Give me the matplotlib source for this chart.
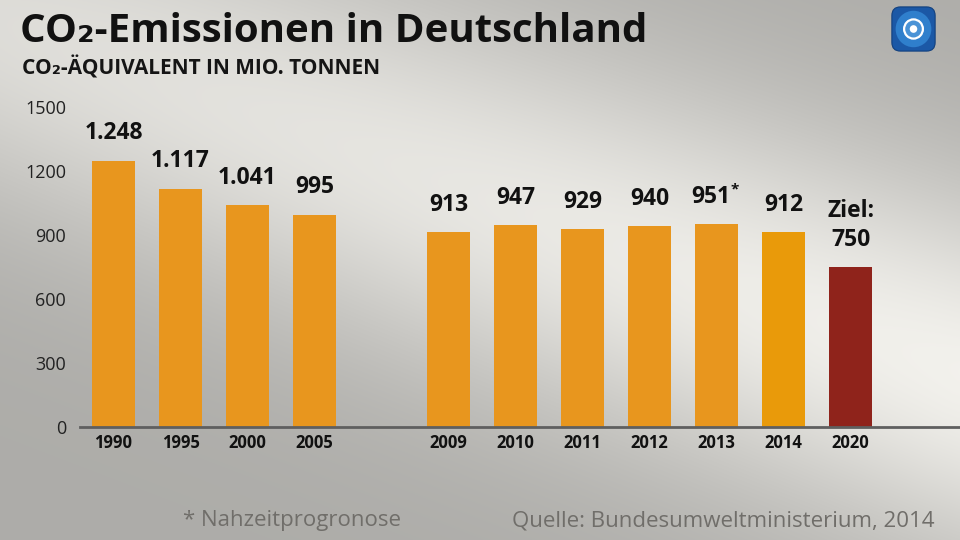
import numpy as np
import matplotlib.pyplot as plt
from matplotlib.patches import FancyBboxPatch, Circle

# # Data
years = ['1990', '1995', '2000', '2005', '2009', '2010', '2011', '2012', '2013', '2014', '2020']
slots = [0, 1, 2, 3, 5, 6, 7, 8, 9, 10, 11]
values = [1248, 1117, 1041, 995, 913, 947, 929, 940, 951, 912, 750]
labels = ['1.248', '1.117', '1.041', '995', '913', '947', '929', '940', '951*', '912', 'Ziel:\n750']
colors = ['#e8961e'] * 9 + ['#e99a0a', '#8f231b']
yticks = [0, 300, 600, 900, 1200, 1500]

plt.rcParams['font.family'] = ['Open Sans', 'DejaVu Sans']

W, H = 960, 540
fig = plt.figure(figsize=(W / 100, H / 100), dpi=100)

# # Background: diagonal light streak on grey
bg = fig.add_axes([0, 0, 1, 1], zorder=-2)
xx, yy = np.meshgrid(np.arange(W), np.arange(H))
dx, dy = 960.0, 350.0
n = np.hypot(dx, dy)
t = np.clip((xx * dx + (yy - 20) * dy) / n ** 2, 0, 1)
dist = np.abs(-(xx * dy) + (yy - 20) * dx) / n
peak = 0.87 + 0.08 * t
shade = 0.68 + (peak - 0.68) * np.exp(-(dist / 180.0) ** 2)
img = np.dstack([shade, shade * 0.995, shade * 0.975])
bg.imshow(img, extent=[0, W, H, 0], aspect='auto')
bg.set_xlim(0, W)
bg.set_ylim(H, 0)
bg.axis('off')

# # Bars
ax = fig.add_axes([80 / W, 113 / H, 880 / W, 320 / H])
ax.patch.set_alpha(0)
ax.bar(slots, values, width=0.64, color=colors, zorder=2)
for x, v, lab in zip(slots, values, labels):
    star = lab.endswith('*')
    ax.annotate(lab.rstrip('*'), (x, v), xytext=(-4 if star else 0, 11), textcoords='offset points',
                ha='center', va='bottom', fontsize=16.5, fontweight='bold',
                color='#111111', linespacing=1.25)
    if star:
        # small raised asterisk after the number
        ax.annotate('*', (x, v), xytext=(10, 20), textcoords='offset points',
                    ha='left', va='bottom', fontsize=11, fontweight='bold', color='#111111')

ax.set_xlim(-0.5, 12.63)
ax.set_ylim(0, 1500)
ax.set_yticks(yticks)
ax.set_yticklabels([str(v) for v in yticks], fontsize=13, color='#222222')
ax.set_xticks(slots)
ax.set_xticklabels(years, fontsize=12, fontweight='bold', color='#111111')
ax.tick_params(axis='y', length=0, pad=10)
ax.tick_params(axis='x', length=0, pad=5)
for s in ['top', 'right', 'left']:
    ax.spines[s].set_visible(False)
ax.spines['bottom'].set_color('#5f5f5f')
ax.spines['bottom'].set_linewidth(2)

# # Titles
fig.text(20 / W, 1 - 42 / H, 'CO₂-Emissionen in Deutschland', fontsize=29,
         fontweight='bold', color='#111111', va='baseline')
fig.text(22 / W, 1 - 74 / H, 'CO₂-ÄQUIVALENT IN MIO. TONNEN', fontsize=15,
         fontweight='bold', color='#151515', va='baseline')

# # Footer
fig.text(183 / W, 1 - 526 / H, '* Nahzeitprogronose', fontsize=16,
         color='#706e6a', va='baseline')
fig.text(935 / W, 1 - 526 / H, 'Quelle: Bundesumweltministerium, 2014', fontsize=16,
         color='#706e6a', va='baseline', ha='right')

# # Logo
lg = fig.add_axes([890 / W, 1 - 53 / H, 47 / W, 48 / H])
lg.set_xlim(0, 1)
lg.set_ylim(0, 1)
lg.axis('off')
lg.add_patch(FancyBboxPatch((0.04, 0.04), 0.92, 0.92, boxstyle='round,pad=0,rounding_size=0.18',
                            fc='#1b58a6', ec='#12407e', lw=0.8))
lg.add_patch(Circle((0.5, 0.5), 0.38, fc='#2f7fcc', ec='none'))
lg.add_patch(Circle((0.5, 0.5), 0.2, fc='#4a93d6', ec='white', lw=1.6))
lg.add_patch(Circle((0.5, 0.5), 0.08, fc='white', ec='none'))

fig.savefig('out.png', dpi=100)
